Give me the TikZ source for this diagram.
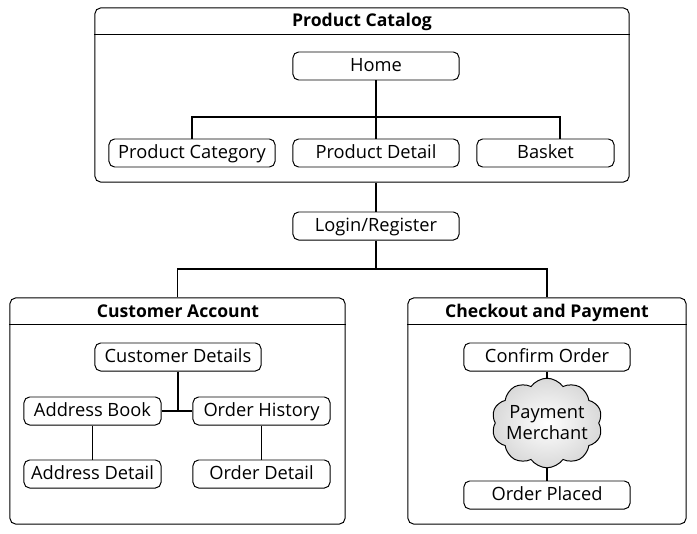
\documentclass[tikz,border=0pt]{standalone}
\usepackage{fontspec}
\setmainfont{Open Sans}
\usepackage{tikz}
\usetikzlibrary{positioning}
\usetikzlibrary{shapes.symbols}
\tikzset{
    page/.style = {rectangle, rounded corners=4pt, draw=black, line width=0.7pt, inner sep=0pt},
    pagenode/.style = {rectangle, rounded corners=4pt, draw=black, line width=0.7pt, fill=white, minimum width=4.15cm, minimum height=0.7cm, inner sep=0pt, text height=0.72em, text depth=0em},
    smallnode/.style = {pagenode, minimum width=3.425cm},
    title/.style = {font=\fontsize{12.5}{14}\selectfont\bfseries, anchor=center, text height=0.72em, text depth=0em},
}
\begin{document}
\begin{tikzpicture}[
	x=0.025cm,
	y=-0.025cm,
	font=\fontsize{13}{15}\selectfont
]
\tikzset{
    link/.style = {-, line width=1.4pt},
    merchant/.style = {cloud, cloud puffs=10, cloud puff arc=110, aspect=1.35, draw=black, line width=0.7pt, inner color=white, outer color=black!15, align=center, inner sep=-3pt}
}
\useasboundingbox (0,0) rectangle (697,533);
%
\node[page, minimum width=13.35cm, minimum height=4.35cm] at (362,95) (cat) {};
\draw[line width=0.7pt] ([yshift=-0.68cm]cat.north west) -- ([yshift=-0.68cm]cat.north east);
\node[title] at (362,21) (catt) {Product Catalog};
\node[page, minimum width=8.375cm, minimum height=5.65cm] at (177.5,411) (acct) {};
\draw[line width=0.7pt] ([yshift=-0.68cm]acct.north west) -- ([yshift=-0.68cm]acct.north east);
\node[title] at (178,312) (acctt) {Customer Account};
\node[page, minimum width=6.95cm, minimum height=5.65cm] at (547,411) (chk) {};
\draw[line width=0.7pt] ([yshift=-0.68cm]chk.north west) -- ([yshift=-0.68cm]chk.north east);
\node[title] at (547,312) (chkt) {Checkout and Payment};
%
\node[pagenode] at (376,66) (home) {Home};
\node[pagenode] at (192,153) (pcat) {Product Category};
\node[pagenode] at (376,153) (pdet) {Product Detail};
\node[smallnode] at (545.5,153) (bask) {Basket};
\node[pagenode] at (376,226) (login) {Login/Register};
%
\node[pagenode] at (178,357) (cdet) {Customer Details};
\node[smallnode] at (92.5,411) (abook) {Address Book};
\node[smallnode] at (261.5,411) (ohist) {Order History};
\node[smallnode] at (92.5,474) (adet) {Address Detail};
\node[smallnode] at (261.5,474) (odet) {Order Detail};
%
\node[pagenode] at (547,357) (conf) {Confirm Order};
\node[merchant] at (547,423) (pay) {Payment\\Merchant};
\node[pagenode] at (547,495) (placed) {Order Placed};
%
\coordinate (bus) at (376,117);
\coordinate (split) at (376,269);
\coordinate (bsk) at ([xshift=0.3625cm]bask.north);
%
\draw[link] (home) -- (pdet);
\draw[link] (pcat.north) |- (bus) -| (bsk);
\draw[link] (login |- cat.south) -- (login);
\draw[link] (login) -- (split);
\draw[link] (acct.north) |- (split) -| (chk.north);
%
\draw[link] (cdet.south) |- (abook.east);
\draw[link] (abook.east) -- (ohist.west);
\draw[link] (abook) -- (adet);
\draw[link] (ohist) -- (odet);
%
\draw[link] (conf) -- (pay);
\draw[link] (pay) -- (placed);
\end{tikzpicture}
\end{document}
